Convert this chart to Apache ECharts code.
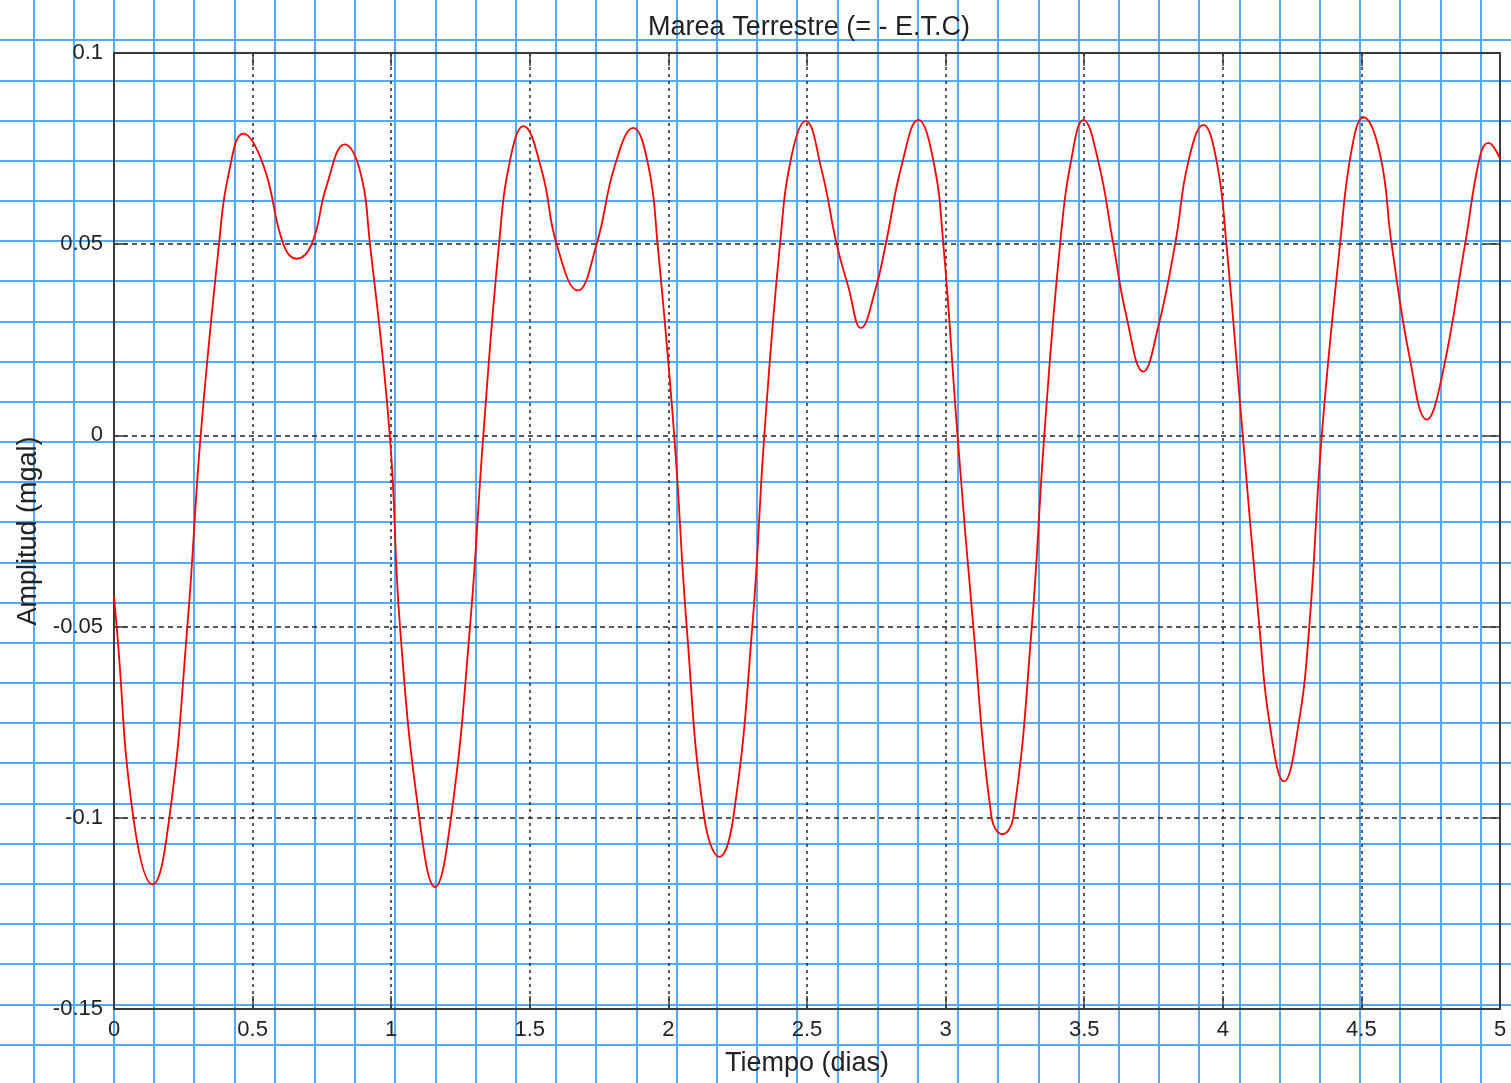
<!DOCTYPE html>
<html>
<head>
<meta charset="utf-8">
<script src="https://cdn.jsdelivr.net/npm/echarts@6/dist/echarts.min.js"></script>
<style>
html,body{margin:0;padding:0;background:#fff;}
#chart{width:1511px;height:1083px;}
</style>
</head>
<body>
<div id="chart"></div>
<script>
// ---- data ----
var timeDays = [
  0, 0.0097, 0.070, 0.1395, 0.1996, 0.2646, 0.3127, 0.3788, 0.4125, 0.4666,
  0.539, 0.611, 0.659, 0.713, 0.767, 0.833, 0.887, 0.9235, 0.995,
  1.0317, 1.1016, 1.158, 1.2157, 1.2843, 1.3323, 1.389, 1.4286, 1.4766,
  1.543, 1.597, 1.673, 1.741, 1.807, 1.873, 1.9275, 1.961, 2.021,
  2.066, 2.1296, 2.184, 2.234, 2.3028, 2.346, 2.4026, 2.4447, 2.4951,
  2.553, 2.607, 2.649, 2.695, 2.745, 2.784, 2.8414, 2.9016, 2.9557, 2.9918, 3.043,
  3.100, 3.166, 3.205, 3.244, 3.311, 3.356, 3.413, 3.455, 3.497,
  3.551, 3.605, 3.653, 3.713, 3.767, 3.828, 3.8756, 3.930, 3.978, 4.013, 4.072,
  4.132, 4.170, 4.221, 4.2725, 4.312, 4.357, 4.423, 4.4649, 4.507,
  4.567, 4.609, 4.6753, 4.736, 4.790, 4.874, 4.928, 4.958, 5.0
];
var amplitude = [
  -0.042, -0.05, -0.1, -0.1174, -0.1, -0.05, 0, 0.05, 0.068, 0.0789,
  0.0706, 0.05, 0.0462, 0.05, 0.0653, 0.0761, 0.0693, 0.05, 0,
  -0.05, -0.1, -0.1181, -0.1, -0.05, 0, 0.05, 0.0719, 0.0809,
  0.0693, 0.05, 0.0379, 0.05, 0.0706, 0.0804, 0.0706, 0.05, 0,
  -0.05, -0.1, -0.1102, -0.1, -0.05, 0, 0.05, 0.0732, 0.0822,
  0.0693, 0.05, 0.0389, 0.0281, 0.0376, 0.05, 0.0706, 0.0825, 0.0719, 0.05, 0,
  -0.05, -0.1, -0.1043, -0.1, -0.05, 0, 0.05, 0.0728, 0.0825,
  0.0716, 0.05, 0.0309, 0.0167, 0.0284, 0.05, 0.0716, 0.0812, 0.0716, 0.05, 0,
  -0.05, -0.0759, -0.0905, -0.0759, -0.05, 0, 0.05, 0.0748, 0.0832,
  0.0736, 0.05, 0.0199, 0.0041, 0.0152, 0.05, 0.073, 0.0765, 0.0724
];
var xTickLabels = ['0','0.5','1','1.5','2','2.5','3','3.5','4','4.5','5'];
var yTickLabels = ['-0.15','-0.1','-0.05','0','0.05','0.1'];
var titleText = 'Marea Terrestre (= - E.T.C)';
var xName = 'Tiempo (dias)';
var yName = 'Amplitud (mgal)';

var seriesData = timeDays.map(function (t, i) { return [t, amplitude[i]]; });

var FONT = 'Liberation Sans, Arial, sans-serif';
var BLUE = '#55aaff';
var AX = '#3a3a3a';
var GRIDC = '#262626';

function xLabel(v) { var i = Math.round(v / 0.5); return xTickLabels[i] !== undefined ? xTickLabels[i] : ''; }
function yLabel(v) { var i = Math.round((v + 0.15) / 0.05); return yTickLabels[i] !== undefined ? yTickLabels[i] : ''; }

var hidden = {axisLine: {show: false}, axisTick: {show: false}, axisLabel: {show: false}, splitLine: {show: false}};
function bgAxis(gridIndex, min, max) {
  return {
    type: 'value', gridIndex: gridIndex, min: min, max: max, interval: 1, z: 0,
    axisLine: {show: false}, axisTick: {show: false}, axisLabel: {show: false},
    splitLine: {show: true, lineStyle: {color: BLUE, width: 2}}
  };
}

var chart = echarts.init(document.getElementById('chart'), null, {renderer: 'canvas'});
chart.setOption({
  animation: false,
  backgroundColor: '#ffffff',
  title: {
    text: titleText,
    left: 804, top: 9, textAlign: 'center',
    textStyle: {fontFamily: FONT, fontSize: 27, fontWeight: 'normal', color: '#222'}
  },
  grid: [
    {left: 114, top: 53, width: 1386, height: 956, containLabel: false},
    {left: 33.3, top: 0, width: 1447.2, height: 1083, containLabel: false},
    {left: 0, top: 40.17, width: 1511, height: 1004.25, containLabel: false}
  ],
  xAxis: [
    {
      type: 'value', gridIndex: 0, min: 0, max: 5, interval: 0.5, position: 'bottom', z: 3,
      axisLine: {show: true, onZero: false, lineStyle: {color: AX, width: 2}},
      axisTick: {show: true, inside: true, length: 13, lineStyle: {color: AX, width: 1.5}},
      axisLabel: {show: true, margin: 10, fontSize: 22, fontFamily: FONT, color: '#222',
        showMinLabel: true, showMaxLabel: true, formatter: xLabel},
      splitLine: {show: true, lineStyle: {color: GRIDC, width: 1.5, type: [3, 4]}},
      name: xName, nameLocation: 'middle', nameGap: 41,
      nameTextStyle: {fontFamily: FONT, fontSize: 27, color: '#222'}
    },
    {
      type: 'value', gridIndex: 0, min: 0, max: 5, interval: 0.5, position: 'top', z: 3,
      axisLine: {show: true, onZero: false, lineStyle: {color: AX, width: 2}},
      axisTick: {show: true, inside: true, length: 13, lineStyle: {color: AX, width: 1.5}},
      axisLabel: {show: false},
      splitLine: {show: false}
    },
    bgAxis(1, 0, 36),
    Object.assign({type: 'value', gridIndex: 2, min: 0, max: 1}, hidden)
  ],
  yAxis: [
    {
      type: 'value', gridIndex: 0, min: -0.15, max: 0.1, interval: 0.05, position: 'left', z: 3,
      axisLine: {show: true, onZero: false, lineStyle: {color: AX, width: 2}},
      axisTick: {show: true, inside: true, length: 13, lineStyle: {color: AX, width: 1.5}},
      axisLabel: {show: true, margin: 11, fontSize: 22, fontFamily: FONT, color: '#222',
        showMinLabel: true, showMaxLabel: true, formatter: yLabel},
      splitLine: {show: true, lineStyle: {color: GRIDC, width: 1.5, type: [5, 4]}},
      name: yName, nameLocation: 'middle', nameGap: 71,
      nameTextStyle: {fontFamily: FONT, fontSize: 27, color: '#222'}
    },
    {
      type: 'value', gridIndex: 0, min: -0.15, max: 0.1, interval: 0.05, position: 'right', z: 3,
      axisLine: {show: true, onZero: false, lineStyle: {color: AX, width: 2}},
      axisTick: {show: true, inside: true, length: 13, lineStyle: {color: AX, width: 1.5}},
      axisLabel: {show: false},
      splitLine: {show: false}
    },
    Object.assign({type: 'value', gridIndex: 1, min: 0, max: 1}, hidden),
    bgAxis(2, 1, 26)
  ],
  series: [
    {
      type: 'line', xAxisIndex: 0, yAxisIndex: 0, data: seriesData,
      showSymbol: false, smooth: 0.45, clip: true, z: 5,
      lineStyle: {color: '#ff0000', width: 1.8}
    }
  ]
});
</script>
</body>
</html>
